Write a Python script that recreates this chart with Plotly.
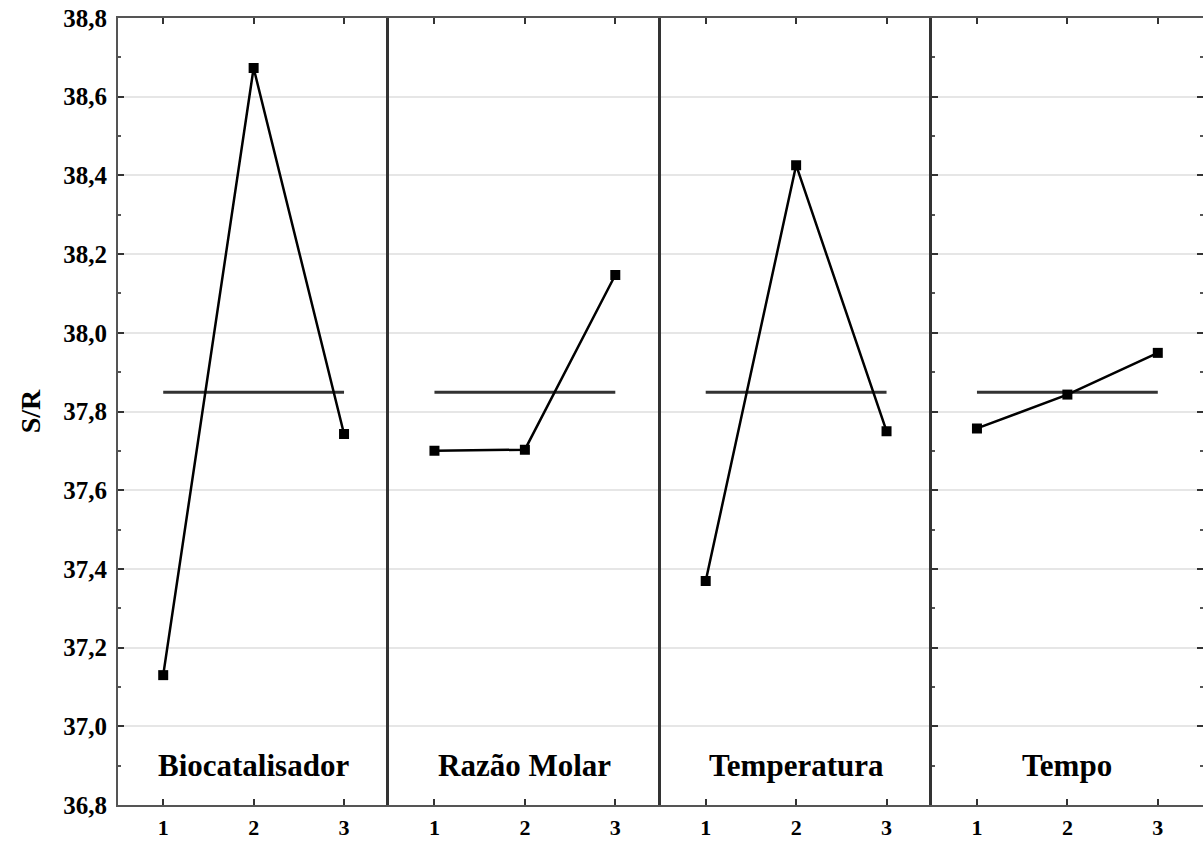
import numpy as np
import plotly.graph_objects as go
from plotly.subplots import make_subplots

factors = ["Biocatalisador", "Razão Molar", "Temperatura", "Tempo"]
levels = [1, 2, 3]
sr_biocatalisador = [37.130, 38.673, 37.743]
sr_razao_molar = [37.700, 37.703, 38.147]
sr_temperatura = [37.369, 38.426, 37.750]
sr_tempo = [37.757, 37.843, 37.949]
y_ticks = [36.8, 37.0, 37.2, 37.4, 37.6, 37.8, 38.0, 38.2, 38.4, 38.6, 38.8]
y_tick_labels = ["36,8", "37,0", "37,2", "37,4", "37,6", "37,8", "38,0", "38,2", "38,4", "38,6", "38,8"]

series = [sr_biocatalisador, sr_razao_molar, sr_temperatura, sr_tempo]
grand_mean = float(np.mean(np.concatenate([np.array(s) for s in series])))

FONT = "Liberation Serif"
fig = make_subplots(rows=1, cols=4, shared_yaxes=True, horizontal_spacing=0)

for i, (name, vals) in enumerate(zip(factors, series)):
    col = i + 1
    fig.add_trace(go.Scatter(
        x=[levels[0], levels[-1]], y=[grand_mean, grand_mean], mode="lines",
        line=dict(color="#333333", width=3), showlegend=False, hoverinfo="skip"),
        row=1, col=col)
    fig.add_trace(go.Scatter(
        x=levels, y=vals, mode="lines+markers",
        line=dict(color="black", width=2.5),
        marker=dict(symbol="square", size=10, color="black"),
        showlegend=False, name=name),
        row=1, col=col)
    fig.add_annotation(x=2, y=36.9, text="<b>%s</b>" % name, showarrow=False,
                       font=dict(family=FONT, size=31, color="black"),
                       xref="x%s" % ("" if col == 1 else col),
                       yref="y%s" % ("" if col == 1 else col))
    fig.update_xaxes(range=[0.5, 3.5], tickvals=levels,
                     ticktext=["<b>%d</b>" % l for l in levels],
                     ticks="inside", ticklen=6, tickwidth=1.5, tickcolor="#333333",
                     showline=True, linewidth=2, linecolor="#555555", mirror="ticks",
                     showgrid=False, zeroline=False, automargin=False,
                     tickfont=dict(family=FONT, size=22, color="black"),
                     ticklabelstandoff=2,
                     row=1, col=col)
    yopts = dict(range=[36.8, 38.8], tickvals=y_ticks, showgrid=True,
                 gridcolor="#e6e6e6", gridwidth=1.5, zeroline=False, automargin=False)
    if col == 1:
        yopts.update(ticktext=["<b>%s</b>" % t for t in y_tick_labels],
                     ticks="inside", ticklen=6, tickwidth=1.5,
                     tickcolor="#333333", showline=True, linewidth=2, linecolor="#555555",
                     tickfont=dict(family=FONT, size=25, color="black"),
                     ticklabelstandoff=4,
                     minor=dict(dtick=0.1, ticks="inside", ticklen=3, tickcolor="#555555"),
                     title=dict(text="<b>S/R</b>", font=dict(family=FONT, size=28, color="black"),
                                standoff=14))
    elif col == 4:
        yopts.update(showticklabels=False, ticks="inside", ticklen=6, tickwidth=1.5,
                     tickcolor="#333333", showline=True, linewidth=3, linecolor="#333333",
                     mirror="ticks",
                     minor=dict(dtick=0.1, ticks="inside", ticklen=3, tickcolor="#555555"))
    else:
        yopts.update(showticklabels=False, ticks="", showline=True, linewidth=3,
                     linecolor="#333333")
    fig.update_yaxes(row=1, col=col, **yopts)

fig.update_layout(
    width=1203, height=845,
    margin=dict(l=118, r=0, t=18, b=40),
    paper_bgcolor="white", plot_bgcolor="white",
    font=dict(family=FONT, color="black"),
)
fig.write_html("out.html", config={"displayModeBar": False},
               post_script="document.body.style.margin='0';document.body.style.overflow='hidden';")
